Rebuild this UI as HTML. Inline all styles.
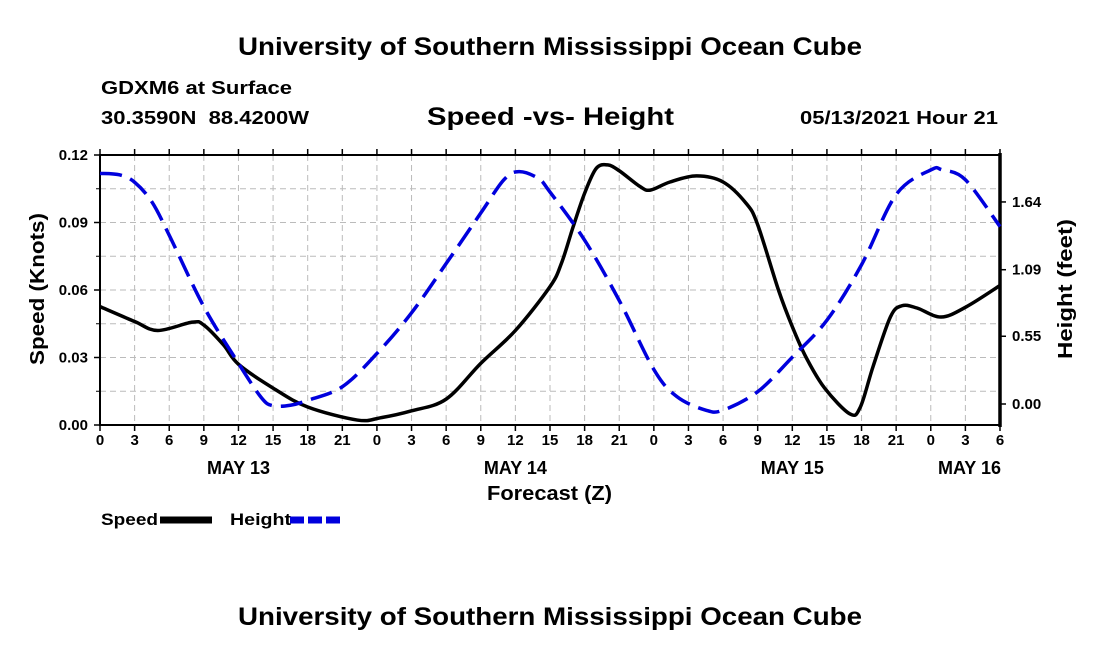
<!DOCTYPE html>
<html><head><meta charset="utf-8"><style>
body{margin:0;background:#fff;}
svg text{font-family:"Liberation Sans",sans-serif;font-weight:bold;fill:#000;white-space:pre;}
</style></head><body>
<svg id="c" width="1100" height="650" viewBox="0 0 1100 650">
<text x="238" y="55" font-size="25" textLength="624" lengthAdjust="spacingAndGlyphs">University of Southern Mississippi Ocean Cube</text>
<text x="101" y="94" font-size="18" textLength="191" lengthAdjust="spacingAndGlyphs">GDXM6 at Surface</text>
<text x="101" y="124" font-size="18" textLength="208" lengthAdjust="spacingAndGlyphs">30.3590N  88.4200W</text>
<text x="427" y="125" font-size="25" textLength="247" lengthAdjust="spacingAndGlyphs">Speed -vs- Height</text>
<text x="800" y="124" font-size="18" textLength="198" lengthAdjust="spacingAndGlyphs">05/13/2021 Hour 21</text>
<text x="238" y="625" font-size="25" textLength="624" lengthAdjust="spacingAndGlyphs">University of Southern Mississippi Ocean Cube</text>
<g id="grid"></g><g id="axes"></g><g id="series"></g>
<text transform="translate(44,289) rotate(-90)" font-size="20" text-anchor="middle" textLength="152" lengthAdjust="spacingAndGlyphs">Speed (Knots)</text>
<text transform="translate(1072,289) rotate(-90)" font-size="20" text-anchor="middle" textLength="140" lengthAdjust="spacingAndGlyphs">Height (feet)</text>
<text x="487" y="500" font-size="20" textLength="125" lengthAdjust="spacingAndGlyphs">Forecast (Z)</text>
<g>
<text x="101" y="525" font-size="17" textLength="57" lengthAdjust="spacingAndGlyphs">Speed</text>
<line x1="160" y1="520" x2="212" y2="520" stroke="#000" stroke-width="7"/>
<text x="230" y="525" font-size="17" textLength="61" lengthAdjust="spacingAndGlyphs">Height</text>
<line x1="290" y1="520" x2="342" y2="520" stroke="#0000dd" stroke-width="7" stroke-dasharray="14,4"/>
</g>
</svg>
<script>
const speedHours=[0,3,5,8,9,10.7,12,15,18,22.3,24.3,27,30,33,36,39,40,41,42,43,44,45,46.8,47.7,49.4,51.7,54,56,57,58.8,60,61.2,62.8,65,65.9,67,68.5,69.5,70.8,72.9,75.1,78];
const speedValues=[0.0526,0.046,0.042,0.0457,0.0444,0.0356,0.027,0.0164,0.008,0.0022,0.0032,0.0063,0.0115,0.0274,0.042,0.0615,0.072,0.088,0.103,0.114,0.1156,0.113,0.106,0.1044,0.108,0.1107,0.108,0.0985,0.089,0.060,0.0437,0.030,0.0164,0.0049,0.008,0.026,0.048,0.053,0.052,0.048,0.0526,0.062];
const heightHours=[0,1.7,3,4.5,6,9,12,14,15,16.5,18,21,24,27,30,33,35,36.3,38,39,42,45,48,50,52.5,54,57,60,63,66,69,72,73,75,78];
const heightValues=[1.872,1.86,1.80,1.64,1.37,0.79,0.33,0.05,-0.014,-0.01,0.03,0.14,0.41,0.74,1.14,1.55,1.82,1.886,1.83,1.72,1.33,0.84,0.28,0.06,-0.05,-0.05,0.1,0.38,0.68,1.13,1.70,1.90,1.90,1.82,1.44];
const speedTicks=["0.00","0.03","0.06","0.09","0.12"];
const heightTicks=["0.00","0.55","1.09","1.64"];
const hourLabels=["0","3","6","9","12","15","18","21","0","3","6","9","12","15","18","21","0","3","6","9","12","15","18","21","0","3","6"];
const dayLabels=["MAY 13","MAY 14","MAY 15","MAY 16"];
const dayHours=[12,36,60,75];
const L=100,R=1000,T=155,B=425,HMAX=78;
const xS=h=>L+h*(R-L)/HMAX;
const yS=v=>B-v*(B-T)/0.12;
const yH=f=>404-f*123.2;
const NS="http://www.w3.org/2000/svg";
function mk(p,tag,attrs){const e=document.createElementNS(NS,tag);for(const k in attrs)e.setAttribute(k,attrs[k]);p.appendChild(e);return e;}
const grid=document.getElementById('grid'),axes=document.getElementById('axes'),ser=document.getElementById('series');
for(let i=1;i<hourLabels.length-1;i++){const l=mk(grid,'line',{x1:xS(i*3),x2:xS(i*3),y1:T,y2:B,stroke:'#bbb','stroke-dasharray':'6,4'});

}
for(let j=1;j<8;j++){const v=j*0.015;const l=mk(grid,'line',{x1:L,x2:R,y1:yS(v),y2:yS(v),stroke:'#bbb','stroke-dasharray':'6,4'});

}
const fr=mk(axes,'rect',{x:L,y:T,width:R-L,height:B-T,fill:'none',stroke:'#000','stroke-width':2});


mk(axes,'line',{x1:R,x2:R,y1:T-2,y2:B+2,stroke:'#000','stroke-width':3.5});
hourLabels.forEach((t,i)=>{const x=xS(i*3);
mk(axes,'line',{x1:x,x2:x,y1:B,y2:B+6,stroke:'#000','stroke-width':1.5});
mk(axes,'line',{x1:x,x2:x,y1:T-6,y2:T,stroke:'#000','stroke-width':1.5});
const tx=mk(axes,'text',{x:x,y:B+20,'font-size':15,'text-anchor':'middle'});tx.textContent=t;

});
dayLabels.forEach((d,i)=>{const last=i===dayLabels.length-1;const x=last?R+1:xS(dayHours[i]);
const tx=mk(axes,'text',{x:x,y:474,'font-size':18,'text-anchor':last?'end':'middle'});tx.textContent=d;

});
speedTicks.forEach(t=>{const y=yS(+t);mk(axes,'line',{x1:L-6,x2:L,y1:y,y2:y,stroke:'#000','stroke-width':1.5});
const tx=mk(axes,'text',{x:L-12,y:y+5,'font-size':15,'text-anchor':'end'});tx.textContent=t;

});
for(let j=1;j<8;j+=2){const y=yS(j*0.015);mk(axes,'line',{x1:L-4,x2:L,y1:y,y2:y,stroke:'#000','stroke-width':1});}
heightTicks.forEach(t=>{const y=yH(+t);mk(axes,'line',{x1:R,x2:R+6,y1:y,y2:y,stroke:'#000','stroke-width':1.5});
const tx=mk(axes,'text',{x:R+12,y:y+5,'font-size':15});tx.textContent=t;

});
function smooth(pts){let d='M'+pts[0][0]+','+pts[0][1];for(let i=0;i<pts.length-1;i++){const p0=pts[i-1]||pts[i],p1=pts[i],p2=pts[i+1],p3=pts[i+2]||p2;
d+=' C'+(p1[0]+(p2[0]-p0[0])/6)+','+(p1[1]+(p2[1]-p0[1])/6)+' '+(p2[0]-(p3[0]-p1[0])/6)+','+(p2[1]-(p3[1]-p1[1])/6)+' '+p2[0]+','+p2[1];}return d;}
const sp=mk(ser,'path',{d:smooth(speedHours.map((h,i)=>[xS(h),yS(speedValues[i])])),fill:'none',stroke:'#000','stroke-width':3.5});


const hp=mk(ser,'path',{d:smooth(heightHours.map((h,i)=>[xS(h),yH(heightValues[i])])),fill:'none',stroke:'#0000dd','stroke-width':3.5,'stroke-dasharray':'22,9'});


</script>
</body></html>
